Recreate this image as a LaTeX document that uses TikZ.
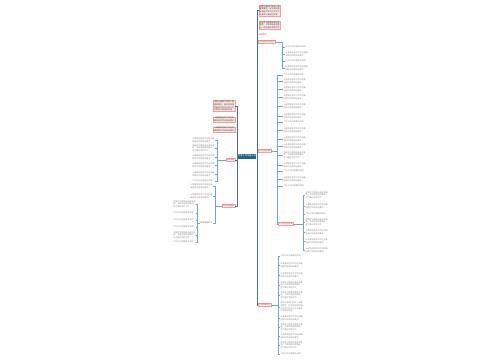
\documentclass[tikz,border=0pt]{standalone}
\usepackage{fontspec}
\setmainfont{Noto Sans CJK SC}
\XeTeXlinebreaklocale "zh"
\XeTeXlinebreakskip=0pt plus 1pt
\definecolor{notepink}{RGB}{252,230,230}
\definecolor{notered}{RGB}{238,160,160}
\definecolor{labred}{RGB}{215,70,70}
\definecolor{labfill}{RGB}{253,238,238}
\definecolor{rootblue}{RGB}{35,100,140}
\definecolor{trunkc}{RGB}{60,120,150}
\definecolor{brc}{RGB}{120,165,190}
\newcommand\tA{工作计划内容要点说明}
\newcommand\tB{认真落实各项工作任务确保按时完成目标要求}
\newcommand\tC{加强学习提高自身综合素质，不断总结经验教训，努力做好本职工作}
\newcommand\tD{按照上级部门的统一部署和要求，结合实际情况制定切实可行的工作方案并认真组织实施}
\begin{document}
\begin{tikzpicture}[x=1pt,y=-1pt,
  leaf/.style={font=\fontsize{2}{2.6}\selectfont, text=black!45, text width=22pt, inner sep=0.4pt, align=left},
  note/.style={font=\fontsize{2}{2.6}\selectfont, text=black!70, fill=notepink, draw=notered, line width=0.2pt, text width=20pt, inner sep=0.6pt, align=left},
  lab/.style={font=\fontsize{2}{2.6}\selectfont, text=labred, fill=labfill, draw=labred!50, line width=0.2pt, inner sep=0.5pt},
  root/.style={font=\fontsize{2.2}{2.6}\selectfont, text=white, fill=rootblue, minimum width=18pt, minimum height=5pt, inner sep=0.5pt},
  trunk/.style={draw=trunkc, line width=0.6pt},
  br/.style={draw=brc, line width=0.3pt}]
\useasboundingbox[fill=white] (0,0) rectangle (500,360);

% central
\node[root] (C) at (247,156) {年度工作总结计划};
\coordinate (rt) at (257,156);
\coordinate (lt) at (237,156);

% top branch
\node[note] (N1) at (269.5,10.5) {\tD};
\node[note] (N2) at (269.5,25) {\tC};
\node[font=\fontsize{2}{2.6}\selectfont, text=labred, inner sep=0.3pt, anchor=west] (T0) at (258,35) {相关推荐};
\node[lab, anchor=west] (T) at (258,42) {工作总结计划范文};
\coordinate (bT) at (282,42);
\draw[trunk] (C.east) -- (rt) |- (N1.west);
\foreach \yy/\tx [count=\i] in {47/\tA,54/\tB,61/\tA,68/\tB}{
  \node[leaf, anchor=west] (t-\i) at (285,\yy) {\tx};
  \draw[br] (T.east) -- (bT) |- (t-\i.west);
}

% right branch 1
\node[lab, anchor=west] (R1) at (258,151) {工作总结内容};
\coordinate (bR1) at (277,151);
\draw[trunk] (rt) |- (R1.west);
\foreach \yy/\tx [count=\i] in {75/\tA,81/\tB,89/\tB,97/\tB,106/\tB,116/\tB,122/\tA,130/\tB,139/\tB,146/\tB,155/\tC,165/\tB,171/\tA,179/\tB,186/\tA}{
  \node[leaf, anchor=west] (r1-\i) at (283,\yy) {\tx};
  \draw[br] (R1.east) -- (bR1) |- (r1-\i.west);
}

% right branch 2
\node[lab, anchor=west] (R2) at (278,224) {下一步工作计划};
\draw[br] (R1.east) -- (bR1) |- (R2.west);
\coordinate (bR2) at (303,224);
\foreach \yy/\tx [count=\i] in {195/\tC,206/\tB,214/\tA,222/\tC,232/\tB,241/\tB,250/\tB}{
  \node[leaf, anchor=west] (r2-\i) at (305,\yy) {\tx};
  \draw[br] (R2.east) -- (bR2) |- (r2-\i.west);
}

% right branch 3
\node[lab, anchor=west] (R3) at (258,305) {工作总结范文};
\coordinate (bR3) at (278,305);
\draw[trunk] (rt) |- (R3.west);
\foreach \yy/\tx [count=\i] in {256/\tA,265/\tB,275/\tB,285/\tC,295/\tC,307/\tD,318/\tB,327/\tC,336/\tB,345/\tC,354/\tA}{
  \node[leaf, anchor=west] (r3-\i) at (280,\yy) {\tx};
  \draw[br] (R3.east) -- (bR3) |- (r3-\i.west);
}

% left notes
\node[note] (NL1) at (224,106) {\tD};
\node[note] (NL2) at (224,119.5) {\tB};
\node[note] (NL3) at (224,129.5) {\tB};
\draw[trunk] (C.west) -- (lt) |- (NL1.east);

% left branch 1
\node[lab, anchor=east] (L1) at (235,160) {工作总结};
\coordinate (bL1) at (217,160);
\draw[trunk] (lt) |- (L1.east);
\foreach \yy/\tx [count=\i] in {140/\tB,148/\tC,157/\tB,165/\tB,174/\tB,181/\tA}{
  \node[leaf, anchor=east] (l1-\i) at (215,\yy) {\tx};
  \draw[br] (L1.west) -- (bL1) |- (l1-\i.east);
}

% left branch 2
\node[lab, anchor=east] (L2) at (235,206) {工作计划安排};
\coordinate (bL2) at (215,206);
\draw[trunk] (lt) |- (L2.east);
\foreach \yy/\tx [count=\i] in {186/\tB,196/\tB}{
  \node[leaf, anchor=east] (l2-\i) at (213,\yy) {\tx};
  \draw[br] (L2.west) -- (bL2) |- (l2-\i.east);
}
\node[font=\fontsize{2}{2.6}\selectfont, text=black!55, inner sep=0.4pt, anchor=east] (L2s) at (213,223) {具体措施如下};
\draw[br] (L2.west) -- (bL2) |- (L2s.east);
\coordinate (bL2s) at (197,223);
\foreach \yy/\tx [count=\i] in {204/\tC,213/\tA,220/\tA,227/\tA,235/\tC,242/\tA}{
  \node[leaf, anchor=east] (l3-\i) at (196,\yy) {\tx};
  \draw[br] (L2s.west) -- (bL2s) |- (l3-\i.east);
}
\end{tikzpicture}
\end{document}
